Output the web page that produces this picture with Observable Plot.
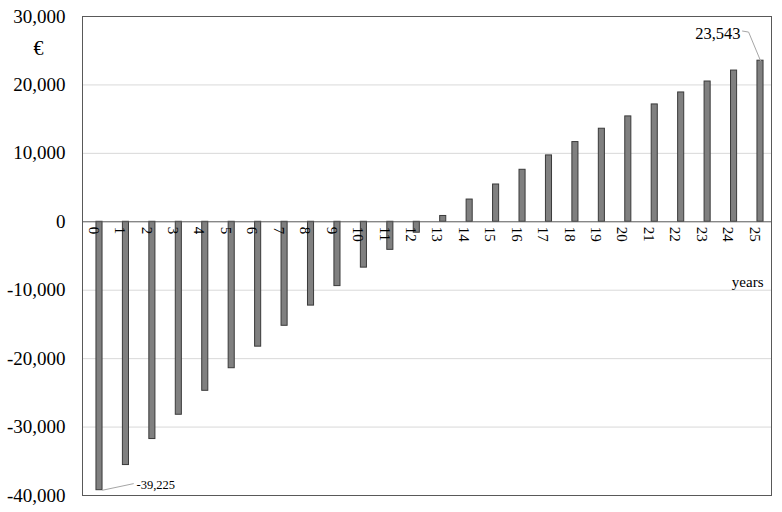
<!DOCTYPE html>
<html>
<head>
<meta charset="utf-8">
<script src="https://cdn.jsdelivr.net/npm/d3@7"></script>
<script src="https://cdn.jsdelivr.net/npm/@observablehq/plot@0.6"></script>
<style>
  html, body { margin: 0; padding: 0; background: #ffffff; }
  #chart { width: 782px; height: 512px; }
</style>
</head>
<body>
<div id="chart"></div>
<script>
// Data
const years = [0,1,2,3,4,5,6,7,8,9,10,11,12,13,14,15,16,17,18,19,20,21,22,23,24,25];
const values = [-39225,-35550,-31750,-28200,-24700,-21400,-18250,-15200,-12250,-9400,-6700,-4100,-1600,850,3250,5450,7600,9700,11650,13600,15400,17150,18900,20500,22100,23543];
const yTicks = [-40000,-30000,-20000,-10000,0,10000,20000,30000];
const unitLabel = "€";
const xAxisLabel = "years";
const annotations = [
  {year: 0, value: -39225, label: "-39,225"},
  {year: 25, value: 23543, label: "23,543"}
];

const serif = "'Liberation Serif', 'Times New Roman', serif";
const fmt = d => d3.format(",")(d).replace("\u2212", "-");
const data = years.map((y, i) => ({year: y, value: values[i]}));

// leader lines (derived from annotation points, offsets in data units)
const leaderLow = [
  {x: annotations[0].year + 0.12, y: annotations[0].value},
  {x: annotations[0].year + 1.28, y: annotations[0].value + 950}
];
const leaderHigh = [
  {x: annotations[1].year, y: annotations[1].value},
  {x: annotations[1].year - 0.45, y: annotations[1].value + 4180},
  {x: annotations[1].year - 0.68, y: annotations[1].value + 4330}
];

const chart = Plot.plot({
  width: 782,
  height: 512,
  marginLeft: 82,
  marginRight: 11,
  marginTop: 16,
  marginBottom: 17,
  style: {fontFamily: serif, fontSize: "19px", color: "#000", background: "#fff", overflow: "visible"},
  x: {type: "linear", domain: [-0.643, 25.416], axis: null},
  y: {domain: [-40000, 30000], ticks: yTicks, label: null, tickFormat: fmt},
  marks: [
    Plot.ruleY(yTicks.filter(t => t !== 0 && t !== -40000 && t !== 30000), {stroke: "#d9d9d9", strokeWidth: 1}),
    Plot.axisY({ticks: yTicks, tickSize: 0, tickPadding: 17, tickFormat: fmt, fontSize: 19, label: null}),
    Plot.rectY(data, {
      x1: d => d.year - 0.115,
      x2: d => d.year + 0.115,
      y1: 0,
      y2: "value",
      fill: "#808080",
      stroke: "#3a3a3a",
      strokeWidth: 1
    }),
    Plot.ruleY([0], {stroke: "#595959", strokeWidth: 1}),
    Plot.text(years, {
      x: d => d, y: 0, text: d => String(d),
      rotate: 90, textAnchor: "start", dx: -6, dy: 5,
      fontSize: 15, fill: "#000"
    }),
    Plot.text([xAxisLabel], {
      x: years[years.length - 1], y: -8850, text: d => d,
      textAnchor: "end", dx: 3, fontSize: 15, fill: "#000"
    }),
    Plot.text([unitLabel], {
      frameAnchor: "top-left", text: d => d, textAnchor: "middle", lineAnchor: "middle",
      dx: -44, dy: 32, fontSize: 20, fill: "#000"
    }),
    Plot.line(leaderLow, {x: "x", y: "y", stroke: "#a6a6a6", strokeWidth: 1}),
    Plot.line(leaderHigh, {x: "x", y: "y", stroke: "#a6a6a6", strokeWidth: 1}),
    Plot.text([annotations[0]], {
      x: "year", y: "value", text: "label",
      textAnchor: "start", dx: 37, dy: -5, fontSize: 12.5, fill: "#000"
    }),
    Plot.text([annotations[1]], {
      x: "year", y: "value", text: "label",
      textAnchor: "end", dx: -20, dy: -27, fontSize: 16.5, fill: "#000"
    }),
    Plot.frame({stroke: "#595959", strokeWidth: 1})
  ]
});
document.getElementById("chart").appendChild(chart);
</script>
</body>
</html>
